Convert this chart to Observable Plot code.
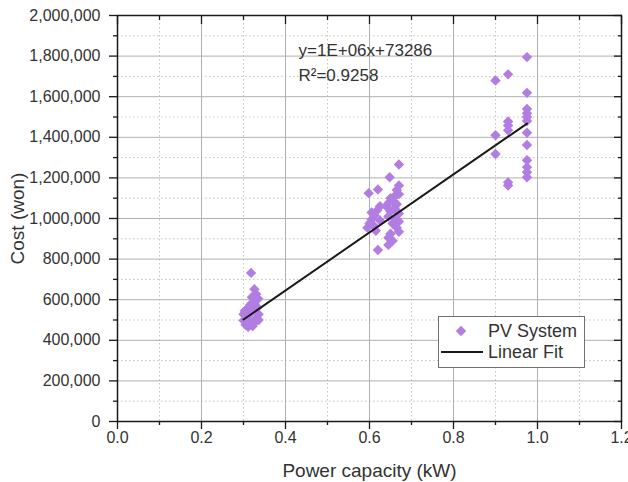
<!DOCTYPE html>
<html>
<head>
<meta charset="utf-8">
<script src="https://cdn.jsdelivr.net/npm/d3@7"></script>
<script src="https://cdn.jsdelivr.net/npm/@observablehq/plot@0.6"></script>
<style>
  body { margin: 0; background: #fff; }
  #chart { position: relative; width: 628px; height: 482px; font-family: "Liberation Sans", Arial, sans-serif; }
  #legend { position: absolute; left: 438px; top: 316px; }
</style>
</head>
<body>
<div id="chart"></div>
<script>
// Measured PV systems: rated capacity (kW) and installed cost (won)
const capacity = [
  // ~0.3 kW systems
  0.318, 0.326, 0.330, 0.335, 0.320, 0.326, 0.333, 0.316, 0.309, 0.303, 0.300,
  0.321, 0.336, 0.331, 0.311, 0.300, 0.316, 0.326, 0.305, 0.311, 0.322, 0.336,
  // ~0.65 kW systems
  0.598, 0.620, 0.648, 0.670, 0.670, 0.665, 0.670, 0.660, 0.650, 0.655, 0.645,
  0.665, 0.640, 0.660, 0.650, 0.670, 0.645, 0.660, 0.670, 0.655, 0.665, 0.670,
  0.650, 0.645, 0.655, 0.645, 0.620, 0.625, 0.618, 0.612, 0.605, 0.600, 0.595,
  0.610, 0.625, 0.615, 0.605,
  // ~0.95 kW systems
  0.975, 0.900, 0.930, 0.975, 0.975, 0.975, 0.975, 0.975, 0.930, 0.930, 0.930,
  0.900, 0.975, 0.975, 0.900, 0.975, 0.975, 0.975, 0.975, 0.930, 0.930
];
const cost = [
  732000, 652000, 628000, 605000, 612000, 583000, 562000, 575000, 556000, 545000, 528000,
  540000, 528000, 508000, 520000, 498000, 494000, 488000, 476000, 466000, 470000, 500000,
  1125000, 1143000, 1203000, 1266000, 1163000, 1140000, 1120000, 1110000, 1100000, 1085000, 1075000,
  1070000, 1060000, 1050000, 1035000, 1025000, 1010000, 1000000, 985000, 975000, 955000, 935000,
  925000, 905000, 890000, 870000, 845000, 1060000, 1040000, 1015000, 995000, 975000, 955000,
  965000, 990000, 940000, 1030000,
  1795000, 1680000, 1710000, 1619000, 1540000, 1518000, 1500000, 1480000, 1478000, 1458000, 1435000,
  1410000, 1422000, 1362000, 1318000, 1287000, 1253000, 1228000, 1203000, 1178000, 1163000
];

// Linear fit parameters
const fitSlope = 1430000;
const fitIntercept = 73286;
const rSquared = 0.9258;

// Axis ticks
const xTicks = [0, 0.2, 0.4, 0.6, 0.8, 1.0, 1.2];
const xMinorTicks = [0.1, 0.3, 0.5, 0.7, 0.9, 1.1];
const yTicks = [0, 200000, 400000, 600000, 800000, 1000000, 1200000, 1400000, 1600000, 1800000, 2000000];
const yMinorTicks = [100000, 300000, 500000, 700000, 900000, 1100000, 1300000, 1500000, 1700000, 1900000];

const pointColor = "#b27de3";
const ink = "#1a1a1a";
const labelInk = "#333";

const points = capacity.map((x, i) => ({capacity: x, cost: cost[i]}));
const xExtent = d3.extent(capacity);
const fitLine = xExtent.map(x => ({capacity: x, cost: fitSlope * x + fitIntercept}));

// Spreadsheet-style scientific notation, e.g. 1E+06
function sci(v) {
  const [m, e] = v.toExponential(0).split("e");
  return `${m}E${e[0]}${e.slice(1).padStart(2, "0")}`;
}
const equation = `y=${sci(fitSlope)}x+${fitIntercept}\nR²=${rSquared}`;

const chart = Plot.plot({
  width: 628,
  height: 482,
  marginLeft: 117,
  marginRight: 7,
  marginTop: 15,
  marginBottom: 61,
  style: {fontFamily: "'Liberation Sans', Arial, sans-serif", fontSize: "16px", color: ink, background: "white"},
  x: {domain: [0, 1.2]},
  y: {domain: [0, 2000000]},
  marks: [
    // grid
    Plot.gridX(xMinorTicks, {stroke: "#c4c4c4", strokeOpacity: 1, strokeDasharray: "1.5,2.5"}),
    Plot.gridY(yMinorTicks, {stroke: "#c4c4c4", strokeOpacity: 1, strokeDasharray: "1.5,2.5"}),
    Plot.gridX(xTicks, {stroke: "#b0b0b0", strokeOpacity: 1}),
    Plot.gridY(yTicks, {stroke: "#b0b0b0", strokeOpacity: 1}),

    // data and fit
    Plot.dot(points, {x: "capacity", y: "cost", symbol: "diamond2", r: 4.7, fill: pointColor, stroke: null}),
    Plot.line(fitLine, {x: "capacity", y: "cost", stroke: ink, strokeWidth: 2}),

    Plot.frame({stroke: ink, strokeWidth: 1.5}),

    // bottom and left axes (ticks outward)
    Plot.axisX(xTicks, {anchor: "bottom", label: null, tickSize: 8, tickPadding: 2, strokeWidth: 1.3, stroke: ink, fill: labelInk, tickFormat: d3.format(".1f"), fontSize: 16}),
    Plot.axisX(xMinorTicks, {anchor: "bottom", label: null, tickSize: 4, strokeWidth: 1.3, stroke: ink, fill: "none"}),
    Plot.axisY(yTicks, {anchor: "left", label: null, tickSize: 8, tickPadding: 9, strokeWidth: 1.3, stroke: ink, fill: labelInk, tickFormat: d3.format(","), fontSize: 16}),
    Plot.axisY(yMinorTicks, {anchor: "left", label: null, tickSize: 4, strokeWidth: 1.3, stroke: ink, fill: "none"}),

    // top and right axes (ticks inward)
    Plot.axisX(xTicks, {anchor: "top", label: null, tickSize: 8, dy: 8, strokeWidth: 1.3, stroke: ink, fill: "none"}),
    Plot.axisX(xMinorTicks, {anchor: "top", label: null, tickSize: 4, dy: 4, strokeWidth: 1.3, stroke: ink, fill: "none"}),
    Plot.axisY(yTicks, {anchor: "right", label: null, tickSize: 8, dx: -8, strokeWidth: 1.3, stroke: ink, fill: "none"}),
    Plot.axisY(yMinorTicks, {anchor: "right", label: null, tickSize: 4, dx: -4, strokeWidth: 1.3, stroke: ink, fill: "none"}),

    // axis titles
    Plot.text(["Cost (won)"], {text: d => d, frameAnchor: "left", rotate: -90, dx: -100, textAnchor: "middle", lineAnchor: "middle", fontSize: 19, fill: labelInk}),
    Plot.text(["Power capacity (kW)"], {text: d => d, frameAnchor: "bottom", dy: 49, textAnchor: "middle", lineAnchor: "middle", fontSize: 19, fill: labelInk}),

    // fit equation
    Plot.text([equation], {text: d => d, frameAnchor: "top-left", dx: 181, dy: 23, textAnchor: "start", lineAnchor: "top", lineHeight: 1.45, fontSize: 17, fill: labelInk})
  ]
});

const root = document.getElementById("chart");
root.appendChild(chart);

// legend
const legend = d3.select(root).append("div").attr("id", "legend")
  .append("svg").attr("width", 147).attr("height", 52)
  .style("font-family", "'Liberation Sans', Arial, sans-serif");
legend.append("rect").attr("x", 0.5).attr("y", 0.5).attr("width", 146).attr("height", 51)
  .attr("fill", "white").attr("stroke", "#707070");
legend.append("path").attr("d", d3.symbol(d3.symbolDiamond2, 4.7 * 4.7 * Math.PI)())
  .attr("transform", "translate(23,15)").attr("fill", pointColor);
legend.append("line").attr("x1", 3).attr("x2", 45).attr("y1", 36).attr("y2", 36)
  .attr("stroke", ink).attr("stroke-width", 2);
legend.append("text").attr("x", 50).attr("y", 15).attr("dy", "0.35em")
  .attr("font-size", 18).attr("fill", labelInk).text("PV System");
legend.append("text").attr("x", 50).attr("y", 36).attr("dy", "0.35em")
  .attr("font-size", 18).attr("fill", labelInk).text("Linear Fit");
</script>
</body>
</html>
